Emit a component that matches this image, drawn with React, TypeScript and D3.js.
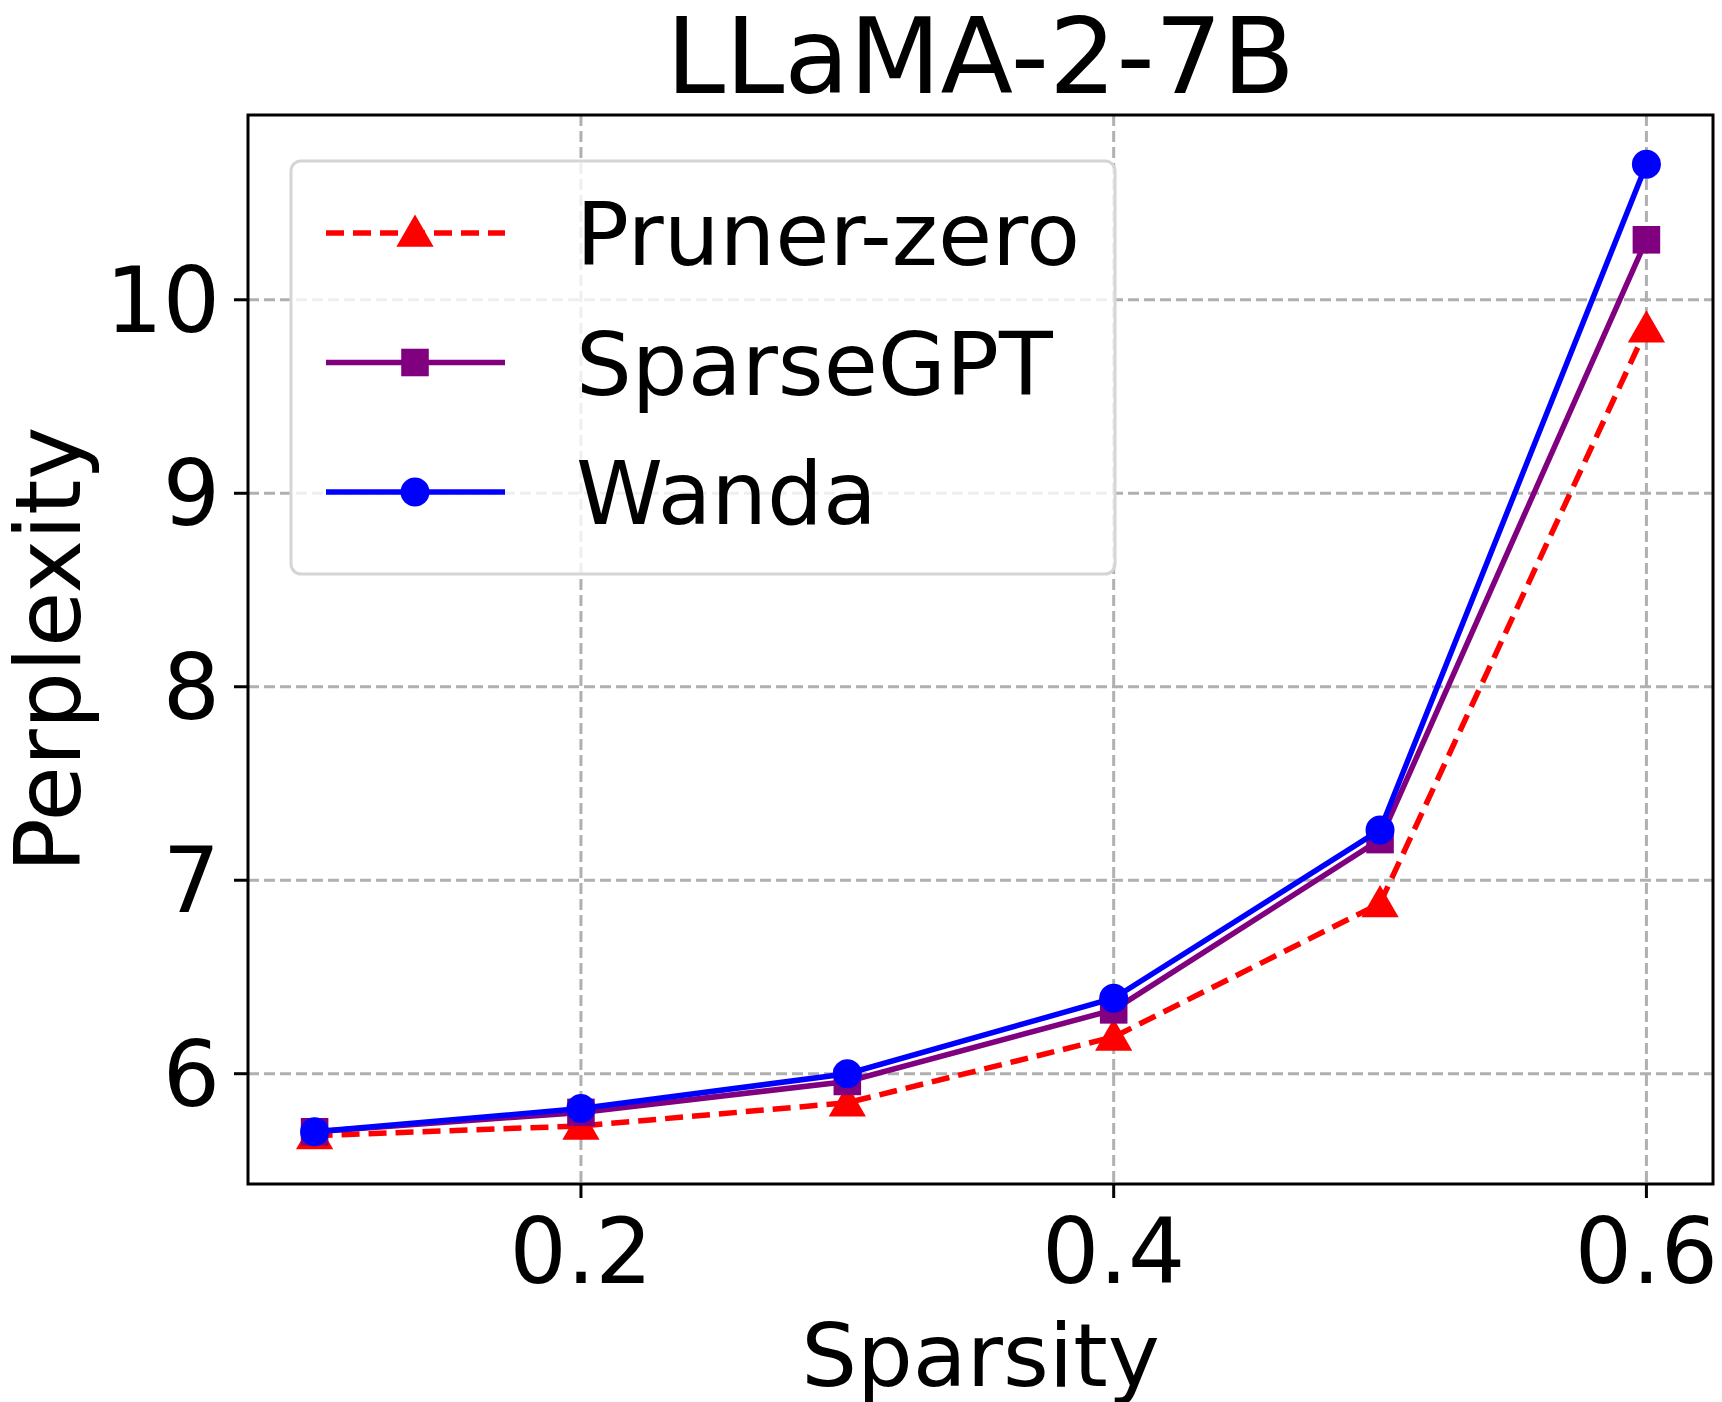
import React from "react";
import * as d3 from "d3";

const sparsity = [0.1, 0.2, 0.3, 0.4, 0.5, 0.6];
const prunerZero = [5.68, 5.73, 5.85, 6.19, 6.88, 9.85];
const sparseGPT = [5.7, 5.8, 5.96, 6.33, 7.21, 10.31];
const wanda = [5.7, 5.82, 6.0, 6.39, 7.26, 10.7];
const xTicks = [0.2, 0.4, 0.6];
const yTicks = [6, 7, 8, 9, 10];

const W = 1722, H = 1402;
const L = 248, R = 1713, T = 115, B = 1184;
const F = "DejaVu Sans, sans-serif";

export default function App() {
  const x = d3.scaleLinear().domain([0.075, 0.625]).range([L, R]);
  const y = d3.scaleLinear().domain([5.43, 10.955]).range([B, T]);
  const line = d3.line<number>().x((_, i) => x(sparsity[i])).y((d) => y(d));
  const tri = d3.symbol(d3.symbolTriangle, 600)();
  const sq = d3.symbol(d3.symbolSquare, 760)();
  const series = [
    { name: "Pruner-zero", data: prunerZero, color: "#ff0000", dash: "18,9", m: "tri" },
    { name: "SparseGPT", data: sparseGPT, color: "#800080", dash: "", m: "sq" },
    { name: "Wanda", data: wanda, color: "#0000ff", dash: "", m: "circ" },
  ];
  const marker = (m: string, cx: number, cy: number, c: string, k: any) =>
    m === "circ" ? <circle key={k} cx={cx} cy={cy} r={14.5} fill={c} /> :
    <path key={k} d={m === "tri" ? tri! : sq!} transform={`translate(${cx},${cy + (m === "tri" ? 3 : 0)})`} fill={c} />;
  return (
    <svg width={W} height={H} style={{ position: "absolute", left: 0, top: 0, background: "#fff" }} fontFamily={F}>
      <g stroke="#b0b0b0" strokeWidth={3} strokeDasharray="11,5">
        {xTicks.map((t) => <line key={t} x1={x(t)} x2={x(t)} y1={T} y2={B} />)}
        {yTicks.map((t) => <line key={t} x1={L} x2={R} y1={y(t)} y2={y(t)} />)}
      </g>
      {series.map((s) => (
        <g key={s.name}>
          <path d={line(s.data)!} fill="none" stroke={s.color} strokeWidth={5.5} strokeDasharray={s.dash} />
          {s.data.map((v, i) => marker(s.m, x(sparsity[i]), y(v), s.color, i))}
        </g>
      ))}
      <rect x={L} y={T} width={R - L} height={B - T} fill="none" stroke="#000" strokeWidth={3} />
      {xTicks.map((t) => (
        <g key={t}>
          <line x1={x(t)} x2={x(t)} y1={B} y2={B + 14} stroke="#000" strokeWidth={3} />
          <text x={x(t)} y={1283} fontSize={90} textAnchor="middle">{t.toFixed(1)}</text>
        </g>
      ))}
      {yTicks.map((t) => (
        <g key={t}>
          <line x1={L - 14} x2={L} y1={y(t)} y2={y(t)} stroke="#000" strokeWidth={3} />
          <text x={220} y={y(t) + 32} fontSize={90} textAnchor="end">{t}</text>
        </g>
      ))}
      <text x={(L + R) / 2} y={1386} fontSize={88} textAnchor="middle">Sparsity</text>
      <text transform={`translate(80,${(T + B) / 2}) rotate(-90)`} fontSize={90} textAnchor="middle">Perplexity</text>
      <text x={(L + R) / 2} y={93} fontSize={106} textAnchor="middle">LLaMA-2-7B</text>
      <rect x={291} y={161} width={824} height={413} rx={10} fill="#fff" fillOpacity={0.8} stroke="#d5d5d5" strokeWidth={3} />
      {series.map((s, i) => {
        const ly = 233 + i * 129.5;
        return (
          <g key={s.name}>
            <line x1={326} x2={505} y1={ly} y2={ly} stroke={s.color} strokeWidth={5.5} strokeDasharray={s.dash} />
            {marker(s.m, 415, ly, s.color, "m")}
            <text x={576} y={ly + 32} fontSize={88}>{s.name}</text>
          </g>
        );
      })}
    </svg>
  );
}
